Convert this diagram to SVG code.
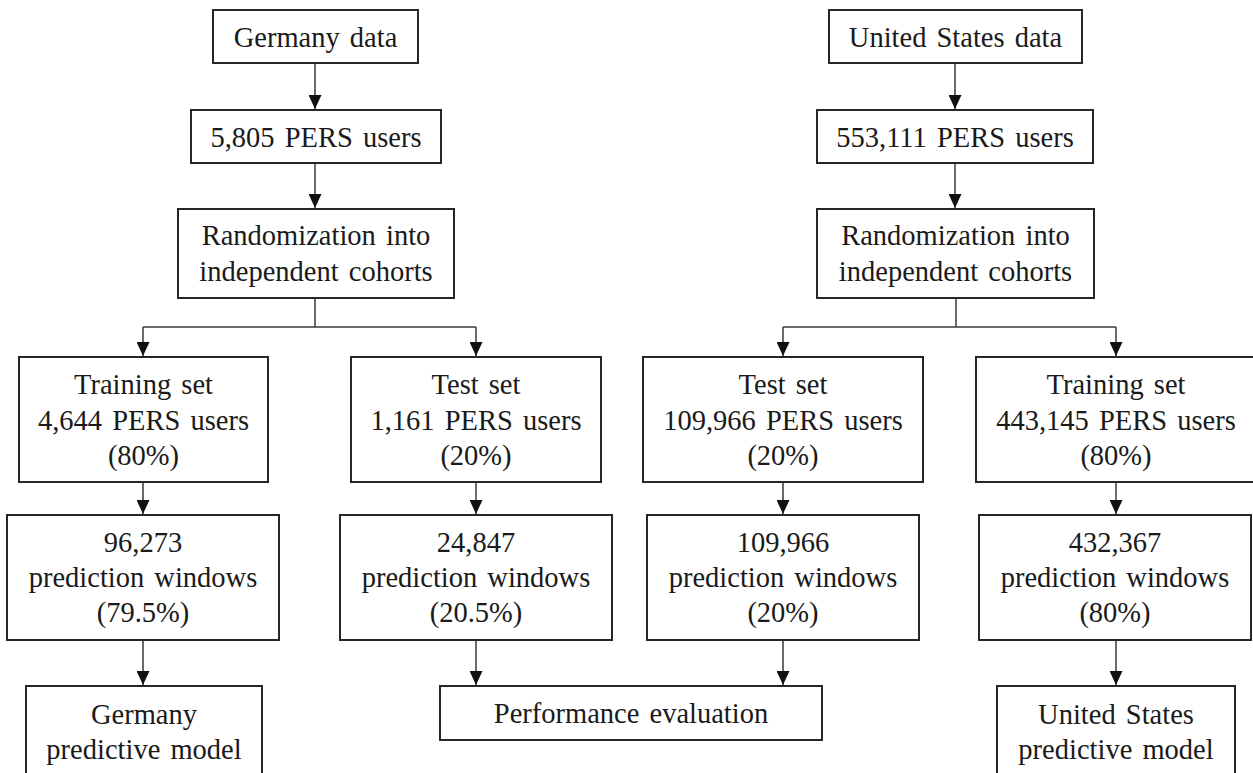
<svg xmlns="http://www.w3.org/2000/svg" width="1253" height="773" viewBox="0 0 1253 773">
<style>
rect{fill:#fff;stroke:#262626;stroke-width:2}
text{font-family:"Liberation Serif","Times New Roman",serif;font-size:28.5px;word-spacing:3px;fill:#1a1a1a;text-anchor:middle}
.c{fill:none;stroke:#3a3a3a;stroke-width:1.5}
</style>
<defs>
<marker id="ah" markerWidth="14" markerHeight="13" refX="14" refY="6.5" orient="auto" markerUnits="userSpaceOnUse">
<path d="M0,0 L14,6.5 L0,13 Z" fill="#111"/>
</marker>
</defs>
<rect width="1253" height="773" style="fill:#fff;stroke:none"/>
<g id="connectors">
<path class="c" d="M315,63 V109" marker-end="url(#ah)"/>
<path class="c" d="M315,163 V208" marker-end="url(#ah)"/>
<path class="c" d="M315,298 V327 M143,327 H476"/>
<path class="c" d="M143,327 V356" marker-end="url(#ah)"/>
<path class="c" d="M476,327 V356" marker-end="url(#ah)"/>
<path class="c" d="M143,482 V514" marker-end="url(#ah)"/>
<path class="c" d="M476,482 V514" marker-end="url(#ah)"/>
<path class="c" d="M143,640 V685" marker-end="url(#ah)"/>
<path class="c" d="M476,640 V685" marker-end="url(#ah)"/>
<path class="c" d="M955,63 V109" marker-end="url(#ah)"/>
<path class="c" d="M955,163 V208" marker-end="url(#ah)"/>
<path class="c" d="M956,298 V327 M783,327 H1116"/>
<path class="c" d="M783,327 V356" marker-end="url(#ah)"/>
<path class="c" d="M1116,327 V356" marker-end="url(#ah)"/>
<path class="c" d="M783,482 V514" marker-end="url(#ah)"/>
<path class="c" d="M1116,482 V514" marker-end="url(#ah)"/>
<path class="c" d="M783,640 V685" marker-end="url(#ah)"/>
<path class="c" d="M1116,640 V685" marker-end="url(#ah)"/>
</g>
<g id="de-data"><rect x="213" y="10" width="205" height="53"/><text x="315.5" y="46.5">Germany data</text></g>
<g id="de-users"><rect x="191" y="110" width="250" height="53"/><text x="316" y="146.5">5,805 PERS users</text></g>
<g id="de-random"><rect x="178" y="209" width="276" height="89"/><text x="316" y="245">Randomization into</text><text x="316" y="281">independent cohorts</text></g>
<g id="de-train"><rect x="19" y="357" width="249" height="125"/><text x="143.5" y="394">Training set</text><text x="143.5" y="429.5">4,644 PERS users</text><text x="143.5" y="465">(80%)</text></g>
<g id="de-test"><rect x="351" y="357" width="250" height="125"/><text x="476" y="394">Test set</text><text x="476" y="429.5">1,161 PERS users</text><text x="476" y="465">(20%)</text></g>
<g id="de-train-pw"><rect x="7" y="515" width="272" height="125"/><text x="143" y="552">96,273</text><text x="143" y="587">prediction windows</text><text x="143" y="622">(79.5%)</text></g>
<g id="de-test-pw"><rect x="340" y="515" width="272" height="125"/><text x="476" y="552">24,847</text><text x="476" y="587">prediction windows</text><text x="476" y="622">(20.5%)</text></g>
<g id="de-model"><rect x="26" y="686" width="236" height="100"/><text x="144" y="724">Germany</text><text x="144" y="759">predictive model</text></g>
<g id="perf"><rect x="440" y="686" width="382" height="54"/><text x="631" y="723">Performance evaluation</text></g>
<g id="us-data"><rect x="829" y="10" width="253" height="53"/><text x="955.5" y="46.5">United States data</text></g>
<g id="us-users"><rect x="817" y="110" width="276" height="53"/><text x="955" y="146.5">553,111 PERS users</text></g>
<g id="us-random"><rect x="817" y="209" width="277" height="89"/><text x="955.5" y="245">Randomization into</text><text x="955.5" y="281">independent cohorts</text></g>
<g id="us-test"><rect x="643" y="357" width="280" height="125"/><text x="783" y="394">Test set</text><text x="783" y="429.5">109,966 PERS users</text><text x="783" y="465">(20%)</text></g>
<g id="us-train"><rect x="976" y="357" width="280" height="125"/><text x="1116" y="394">Training set</text><text x="1116" y="429.5">443,145 PERS users</text><text x="1116" y="465">(80%)</text></g>
<g id="us-test-pw"><rect x="647" y="515" width="272" height="125"/><text x="783" y="552">109,966</text><text x="783" y="587">prediction windows</text><text x="783" y="622">(20%)</text></g>
<g id="us-train-pw"><rect x="979" y="515" width="272" height="125"/><text x="1115" y="552">432,367</text><text x="1115" y="587">prediction windows</text><text x="1115" y="622">(80%)</text></g>
<g id="us-model"><rect x="997" y="686" width="238" height="100"/><text x="1116" y="724">United States</text><text x="1116" y="759">predictive model</text></g>
</svg>
